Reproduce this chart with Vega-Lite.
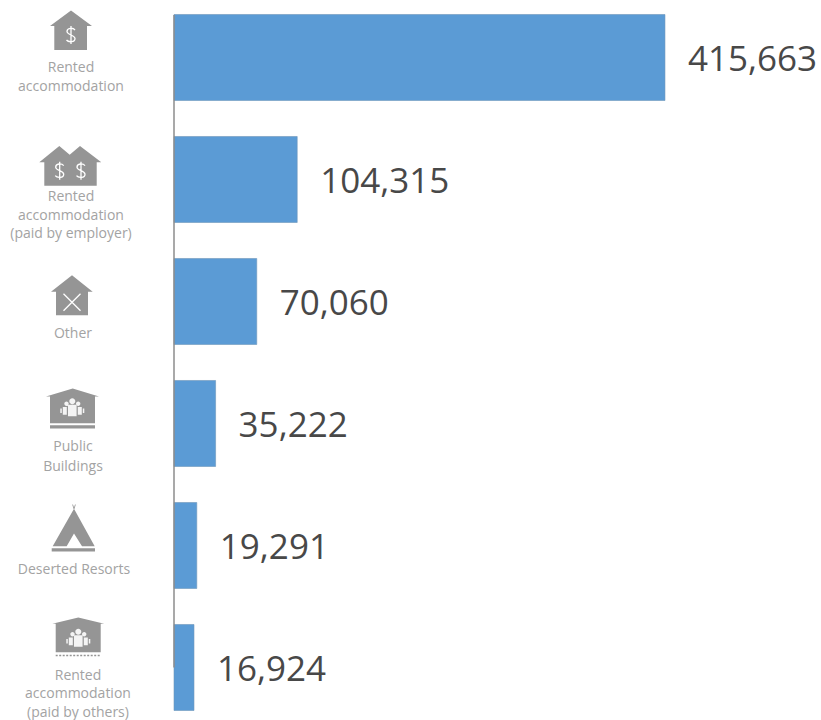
{
  "$schema": "https://vega.github.io/schema/vega-lite/v6.json",
  "width": 647,
  "height": 720,
  "autosize": {"type": "none"},
  "padding": {"left": 174, "top": 0, "right": 0, "bottom": 0},
  "background": "white",
  "config": {"view": {"stroke": null}},
  "data": {"values": [
    {"type": "Rented\naccommodation", "value": 415663},
    {"type": "Rented\naccommodation\n(paid by employer)", "value": 104315},
    {"type": "Other", "value": 70060},
    {"type": "Public\nBuildings", "value": 35222},
    {"type": "Deserted Resorts", "value": 19291},
    {"type": "Rented\naccommodation\n(paid by others)", "value": 16924}
  ]},
  "encoding": {
    "y": {
      "field": "type", "type": "nominal", "axis": null, "sort": null,
      "scale": {
        "domain": ["Rented\naccommodation", "Rented\naccommodation\n(paid by employer)", "Other", "Public\nBuildings", "Deserted Resorts", "Rented\naccommodation\n(paid by others)"],
        "range": [-3.5, 728.5], "paddingInner": 0.295, "paddingOuter": 0.1475
      }
    }
  },
  "resolve": {"scale": {"shape": "independent"}},
  "layer": [
    {
      "mark": {"type": "bar", "color": "#5B9BD5", "stroke": "#6f97bb", "strokeWidth": 0.6},
      "encoding": {
        "x": {"field": "value", "type": "quantitative", "axis": null, "scale": {"domain": [0, 547750], "nice": false, "zero": true}}
      }
    },
    {
      "mark": {"type": "rule", "color": "#8c8c8c", "strokeWidth": 1.5, "yOffset": -42.5},
      "data": {"values": [{"a": 1}]},
      "encoding": {
        "x": {"datum": 0},
        "y": {"datum": "Rented\naccommodation"},
        "y2": {"datum": "Rented\naccommodation\n(paid by others)"}
      }
    },
    {
      "mark": {"type": "text", "align": "left", "baseline": "middle", "dx": 23, "dy": 2, "font": "Open Sans", "fontSize": 35, "color": "#484848"},
      "encoding": {
        "x": {"field": "value", "type": "quantitative"},
        "text": {"field": "value", "type": "quantitative", "format": ","}
      }
    },
    {
      "mark": {"type": "point", "filled": true, "opacity": 1, "size": 4, "color": "#959595", "xOffset": -103},
      "encoding": {
        "x": {"datum": 0},
        "shape": {
          "field": "type", "type": "nominal", "legend": null,
          "scale": {
            "domain": ["Rented\naccommodation", "Rented\naccommodation\n(paid by employer)", "Other", "Public\nBuildings", "Deserted Resorts", "Rented\naccommodation\n(paid by others)"],
            "range": [
              "M0,-47L21,-31.5L16,-31.5L16,-7.5L-16.7,-7.5L-16.7,-31.5L-21,-31.5Z",
              "M-11.7,-33.5L-1.3,-24.8L9,-33.5L30.3,-17.2L25.7,-17.2L25.7,6.2L-26.7,6.2L-26.7,-17.2L-31.7,-17.2Z",
              "M1,-26.2L21.7,-9.8L17,-9.8L17,13.8L-15,13.8L-15,-9.8L-20,-9.8Z",
              "M1.7,-35L28,-27L24,-27L24,-0.3L-21,-0.3L-21,-27L-25,-27ZM-21,1.7L24,1.7L24,5L-21,5Z",
              "M3,-36.7L23.7,0.7L11,0.7L3,-12L-4.3,0.7L-18.3,0.7ZM-19.3,2.7L24,2.7L24,6L-19.3,6ZM1.2,-41L2,-41L3,-38L4,-41L4.8,-41L3.4,-36.5L2.6,-36.5Z",
              "M7.3,-50L33.3,-43.7L29.7,-43.7L29.7,-15.3L-15.3,-15.3L-15.3,-43.7L-18.7,-43.7ZM-15.3,-12.8h2v1.5h-2zM-11.8,-12.8h2v1.5h-2zM-8.3,-12.8h2v1.5h-2zM-4.8,-12.8h2v1.5h-2zM-1.3,-12.8h2v1.5h-2zM2.2,-12.8h2v1.5h-2zM5.7,-12.8h2v1.5h-2zM9.2,-12.8h2v1.5h-2zM12.7,-12.8h2v1.5h-2zM16.2,-12.8h2v1.5h-2zM19.7,-12.8h2v1.5h-2zM23.2,-12.8h2v1.5h-2zM26.7,-12.8h2v1.5h-2z"
            ]
          }
        }
      }
    },
    {
      "transform": [{"filter": {"field": "type", "oneOf": ["Rented\naccommodation", "Rented\naccommodation\n(paid by employer)", "Other"]}}],
      "mark": {"type": "point", "filled": false, "opacity": 1, "size": 4, "stroke": "white", "strokeWidth": 1.3, "xOffset": -103},
      "encoding": {
        "x": {"datum": 0},
        "shape": {
          "field": "type", "type": "nominal", "legend": null,
          "scale": {
            "domain": ["Rented\naccommodation", "Rented\naccommodation\n(paid by employer)", "Other"],
            "range": [
              "M4,-27.5C2,-30 -4,-30 -4,-26C-4,-22.5 4,-22.5 4,-19C4,-15 -2.5,-15 -4.5,-17.5M0,-31.5L0,-13.5",
              "M-7.3,-13.8C-9.3,-16.3 -15.3,-16.3 -15.3,-12.3C-15.3,-8.8 -7.3,-8.8 -7.3,-5.3C-7.3,-1.3 -13.8,-1.3 -15.8,-3.8M-11.3,-17.8L-11.3,0.2M14,-13.8C12,-16.3 6,-16.3 6,-12.3C6,-8.8 14,-8.8 14,-5.3C14,-1.3 7.5,-1.3 5.5,-3.8M10,-17.8L10,0.2",
              "M-7.5,-7.7L9.5,9.3M9.5,-7.7L-7.5,9.3"
            ]
          }
        }
      }
    },
    {
      "transform": [{"filter": {"field": "type", "oneOf": ["Public\nBuildings", "Rented\naccommodation\n(paid by others)"]}}],
      "mark": {"type": "point", "filled": true, "opacity": 1, "size": 4, "color": "#f4f4f4", "xOffset": -103},
      "encoding": {
        "x": {"datum": 0},
        "shape": {
          "field": "type", "type": "nominal", "legend": null,
          "scale": {
            "domain": ["Public\nBuildings", "Rented\naccommodation\n(paid by others)"],
            "range": [
              "M-1.7,-22.3A3,3 0 1 0 4.3,-22.3A3,3 0 1 0 -1.7,-22.3ZM-3,-18.8L5.6,-18.8L5.6,-7.3L-3,-7.3ZM-6.7,-19.8A2.2,2.2 0 1 0 -2.3,-19.8A2.2,2.2 0 1 0 -6.7,-19.8ZM-8.2,-16.5L-4.2,-16.5L-4.2,-8.8L-8.2,-8.8ZM-10.7,-15L-9.2,-15L-9.2,-10.5L-10.7,-10.5ZM5,-19.8A2.2,2.2 0 1 0 9.4,-19.8A2.2,2.2 0 1 0 5,-19.8ZM6.8,-16.5L10.8,-16.5L10.8,-8.8L6.8,-8.8ZM11.8,-15L13.3,-15L13.3,-10.5L11.8,-10.5Z",
              "M4.3,-35.7A3,3 0 1 0 10.3,-35.7A3,3 0 1 0 4.3,-35.7ZM3,-32.2L11.6,-32.2L11.6,-20.7L3,-20.7ZM-0.7,-33.2A2.2,2.2 0 1 0 3.7,-33.2A2.2,2.2 0 1 0 -0.7,-33.2ZM-2.2,-29.9L1.8,-29.9L1.8,-22.2L-2.2,-22.2ZM-4.7,-28.4L-3.2,-28.4L-3.2,-23.9L-4.7,-23.9ZM11,-33.2A2.2,2.2 0 1 0 15.4,-33.2A2.2,2.2 0 1 0 11,-33.2ZM12.8,-29.9L16.8,-29.9L16.8,-22.2L12.8,-22.2ZM17.8,-28.4L19.3,-28.4L19.3,-23.9L17.8,-23.9Z"
            ]
          }
        }
      }
    },
    {
      "transform": [{"filter": {"field": "type", "equal": "Rented\naccommodation"}}],
      "mark": {"type": "text", "lineBreak": "\n", "lineHeight": 19, "font": "Open Sans", "fontSize": 14, "color": "#a3a3a3", "baseline": "middle", "xOffset": -103, "yOffset": 10.5},
      "encoding": {"x": {"datum": 0}, "text": {"field": "type"}}
    },
    {
      "transform": [{"filter": {"field": "type", "equal": "Rented\naccommodation\n(paid by employer)"}}],
      "mark": {"type": "text", "lineBreak": "\n", "lineHeight": 18.5, "font": "Open Sans", "fontSize": 14, "color": "#a3a3a3", "baseline": "middle", "xOffset": -103, "yOffset": 17.5},
      "encoding": {"x": {"datum": 0}, "text": {"field": "type"}}
    },
    {
      "transform": [{"filter": {"field": "type", "equal": "Other"}}],
      "mark": {"type": "text", "font": "Open Sans", "fontSize": 14, "color": "#a3a3a3", "baseline": "middle", "xOffset": -101, "yOffset": 32},
      "encoding": {"x": {"datum": 0}, "text": {"field": "type"}}
    },
    {
      "transform": [{"filter": {"field": "type", "equal": "Public\nBuildings"}}],
      "mark": {"type": "text", "lineBreak": "\n", "lineHeight": 20, "font": "Open Sans", "fontSize": 14, "color": "#a3a3a3", "baseline": "middle", "xOffset": -101, "yOffset": 23},
      "encoding": {"x": {"datum": 0}, "text": {"field": "type"}}
    },
    {
      "transform": [{"filter": {"field": "type", "equal": "Deserted Resorts"}}],
      "mark": {"type": "text", "font": "Open Sans", "fontSize": 14, "color": "#a3a3a3", "baseline": "middle", "xOffset": -100, "yOffset": 24},
      "encoding": {"x": {"datum": 0}, "text": {"field": "type"}}
    },
    {
      "transform": [{"filter": {"field": "type", "equal": "Rented\naccommodation\n(paid by others)"}}],
      "mark": {"type": "text", "lineBreak": "\n", "lineHeight": 18.5, "font": "Open Sans", "fontSize": 14, "color": "#a3a3a3", "baseline": "middle", "xOffset": -96, "yOffset": 8},
      "encoding": {"x": {"datum": 0}, "text": {"field": "type"}}
    }
  ]
}
